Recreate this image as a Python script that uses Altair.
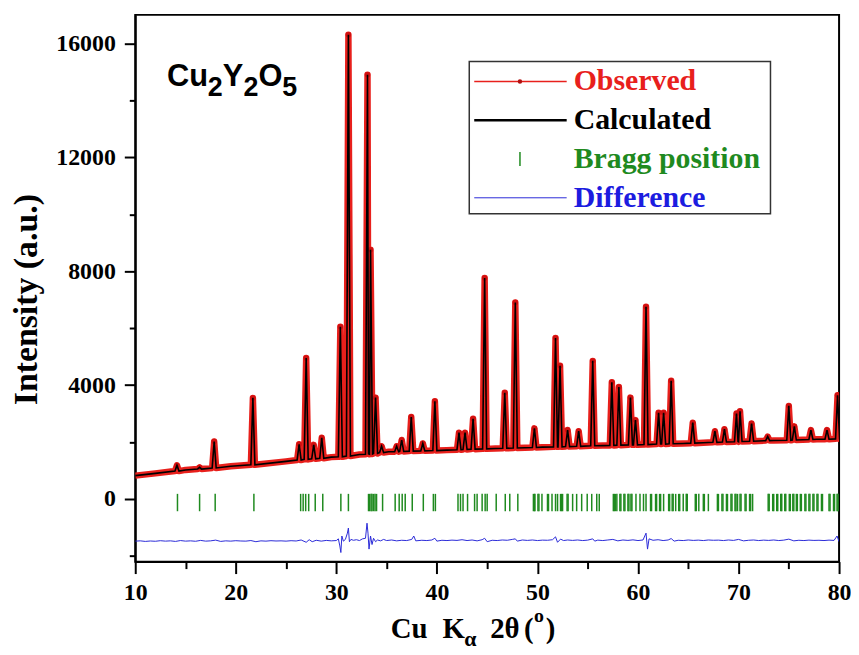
import altair as alt
import pandas as pd

# ---------------- data ----------------
# background anchor points of the pattern (2theta, intensity)
bg_x = [10, 12, 15, 19.5, 25, 29.5, 32.3, 35.2, 41, 45.8, 50.5, 56.5, 64.5, 66.5, 73.5, 77.8, 80.3]
bg_y = [820, 900, 1020, 1150, 1320, 1470, 1560, 1660, 1715, 1770, 1820, 1875, 1950, 1975, 2055, 2095, 2115]

# reflections: position, top intensity, local background under the peak
peak_pos = [14.15, 16.4, 17.85, 21.7, 26.3, 27.0, 27.75, 28.55, 30.4, 31.2, 33.1, 33.4, 33.9,
            34.5, 36.0, 36.5, 37.45, 38.6, 39.8, 42.2, 42.8, 43.6, 44.75, 46.75, 47.8, 49.7,
            51.8, 52.25, 53.0, 54.1, 55.5, 57.4, 58.1, 59.25, 59.75, 60.8, 62.05, 62.55, 63.3,
            65.45, 67.65, 68.6, 69.8, 70.15, 71.3, 72.9, 75.0, 75.55, 77.2, 78.8, 79.85]
peak_top = [1180, 1110, 2020, 3550, 1920, 4950, 1900, 2150, 6050, 16300, 14900, 8750, 3560,
            1850, 1850, 2070, 2880, 1950, 3430, 2330, 2330, 2820, 7760, 3730, 6900, 2480,
            5650, 4680, 2420, 2380, 4850, 4100, 3930, 3560, 2770, 6750, 3030, 3030, 4150,
            2680, 2380, 2450, 3000, 3080, 2650, 2190, 3270, 2550, 2420, 2420, 3640]
peak_base = [980, 1050, 1090, 1200, 1370, 1390, 1410, 1430, 1480, 1510, 1570, 1580, 1600,
             1630, 1660, 1670, 1680, 1690, 1700, 1730, 1740, 1750, 1760, 1780, 1790, 1810,
             1830, 1830, 1840, 1850, 1870, 1880, 1890, 1900, 1900, 1910, 1930, 1930, 1940,
             1960, 1990, 2000, 2010, 2020, 2030, 2050, 2060, 2070, 2090, 2100, 2110]

# Bragg reflection positions
bragg_pos = [14.2, 16.4, 17.95, 21.8, 26.45, 26.7, 26.95, 27.25, 27.9, 28.65, 30.45, 31.2, 33.2,
             33.3, 33.45, 33.55, 33.7, 33.85, 34.0, 34.6, 35.85, 36.25, 36.55, 36.85, 37.55,
             38.65, 39.65, 39.85, 42.1, 42.35, 42.6, 43.05, 43.75, 44.0, 44.5, 44.8, 45.0, 45.9,
             46.8, 47.25, 48.05, 49.6, 49.7, 49.75, 50.05, 50.15, 50.45, 51.0, 51.1, 51.45,
             51.8, 52.0, 52.3, 52.4, 52.5, 52.95, 53.05, 53.5, 53.9, 54.4, 54.95, 55.4, 55.9,
             56.15, 57.55, 57.65, 57.75, 57.9, 58.2, 58.3, 58.6, 58.7, 59.0, 59.1, 59.3, 59.4,
             59.8, 60.2, 60.55, 60.8, 61.25, 61.35, 61.75, 61.85, 62.15, 62.25, 62.55, 63.05,
             63.15, 63.4, 63.5, 63.75, 64.05, 64.15, 64.5, 64.8, 64.9, 65.7, 65.8, 66.05,
             66.5, 66.6, 67.0, 67.9, 68.0, 68.35, 68.45, 68.8, 68.9, 69.25, 69.35, 69.65, 69.75,
             69.9, 70.15, 70.25, 70.65, 70.75, 71.1, 71.2, 71.4, 72.95, 73.05, 73.4, 73.5, 73.8,
             73.9, 74.2, 74.3, 74.6, 74.7, 75.05, 75.15, 75.4, 75.5, 75.75, 75.85, 76.15, 76.25,
             76.6, 76.7, 77.0, 77.1, 77.4, 77.5, 77.8, 77.9, 78.25, 78.35, 79.0, 79.1, 79.45,
             79.55, 79.8, 79.9]

# difference curve (observed - calculated, offset)
diff_x = [10.0, 10.5, 11.0, 11.5, 12.0, 12.5, 13.0, 13.5, 14.0, 14.5, 15.0, 15.5, 16.0, 16.5,
          17.0, 17.5, 18.0, 18.5, 19.0, 19.5, 20.0, 20.5, 21.0, 21.5, 22.0, 22.5, 23.0, 23.5,
          24.0, 24.5, 25.0, 25.5, 26.0, 26.5, 27.0, 27.3, 27.6, 28.0, 28.5, 29.0, 29.5, 30.0,
          30.2, 30.35, 30.45, 30.55, 30.7, 30.9, 31.1, 31.2, 31.3, 31.45, 31.7, 32.0, 32.3,
          32.6, 32.9, 33.05, 33.15, 33.25, 33.4, 33.55, 33.7, 33.9, 34.1, 34.4, 34.7, 35.0,
          35.5, 36.0, 36.5, 37.0, 37.5, 37.7, 37.9, 38.5, 39.0, 39.5, 39.8, 40.0, 40.5, 41.0,
          41.5, 42.0, 42.5, 43.0, 43.5, 44.0, 44.5, 44.75, 45.0, 45.5, 46.0, 46.5, 47.0, 47.5,
          47.8, 48.0, 48.5, 49.0, 49.5, 50.0, 50.5, 51.0, 51.5, 51.8, 52.0, 52.3, 52.6, 53.0,
          53.5, 54.0, 54.5, 55.0, 55.5, 55.7, 56.0, 56.5, 57.0, 57.5, 58.0, 58.5, 59.0, 59.5,
          60.0, 60.5, 60.8, 60.95, 61.1, 61.5, 62.0, 62.5, 63.0, 63.3, 63.6, 64.0, 64.5, 65.0,
          65.5, 66.0, 66.5, 67.0, 67.5, 68.0, 68.5, 69.0, 69.5, 70.0, 70.5, 71.0, 71.5, 72.0,
          72.5, 73.0, 73.5, 74.0, 74.5, 75.0, 75.5, 76.0, 76.5, 77.0, 77.5, 78.0, 78.5, 79.0,
          79.5, 79.8, 80.0]
diff_y = [-1480, -1470, -1490, -1475, -1485, -1465, -1480, -1470, -1490, -1460, -1480, -1470,
          -1485, -1455, -1480, -1470, -1445, -1490, -1470, -1480, -1465, -1475, -1480, -1460,
          -1500, -1470, -1480, -1465, -1475, -1470, -1480, -1465, -1475, -1440, -1520, -1430,
          -1500, -1450, -1480, -1455, -1470, -1460, -1400, -1650, -1880, -1300, -1480, -1420,
          -1200, -1020, -1500, -1420, -1450, -1430, -1460, -1400, -1380, -850, -1200, -1760,
          -1300, -1600, -1380, -1500, -1440, -1470, -1420, -1460, -1440, -1470, -1450, -1460,
          -1420, -1300, -1470, -1450, -1460, -1440, -1380, -1480, -1450, -1460, -1445, -1455,
          -1430, -1460, -1440, -1470, -1430, -1380, -1500, -1450, -1460, -1440, -1450, -1420,
          -1400, -1480, -1440, -1455, -1440, -1460, -1445, -1450, -1430, -1330, -1520, -1410,
          -1460, -1440, -1455, -1440, -1460, -1445, -1400, -1480, -1445, -1460, -1440, -1420,
          -1470, -1440, -1455, -1435, -1460, -1440, -1200, -1760, -1400, -1450, -1430, -1460,
          -1440, -1390, -1480, -1450, -1460, -1440, -1455, -1445, -1460, -1440, -1450, -1445,
          -1460, -1440, -1455, -1420, -1470, -1450, -1440, -1460, -1445, -1455, -1440, -1460,
          -1445, -1410, -1470, -1450, -1460, -1445, -1455, -1450, -1460, -1445, -1455, -1300,
          -1500]

x_ticks = [10, 15, 20, 25, 30, 35, 40, 45, 50, 55, 60, 65, 70, 75, 80]
y_ticks = [-2000, 0, 2000, 4000, 6000, 8000, 10000, 12000, 14000, 16000]

legend_labels = ["Observed", "Calculated", "Bragg position", "Difference"]
legend_colors = ["#e8201c", "#000000", "#1f8a1f", "#1c1ce0"]

RED = "#e8201c"
GREEN = "#1f8a1f"
BLUE = "#2a2ad8"
SERIF = "Liberation Serif"
SANS = "Liberation Sans"

# ---------------- build profile polyline ----------------
HW = 0.2
verts = []
for p, t, b in zip(peak_pos, peak_top, peak_base):
    verts += [(p - HW, b), (p, t), (p + HW, b)]
for x, y in zip(bg_x, bg_y):
    if all(abs(x - p) > HW for p in peak_pos):
        verts.append((x, y))
verts.sort()
profile = pd.DataFrame(verts, columns=["x", "y"])
tops = pd.DataFrame({"x": peak_pos, "y": peak_top})
bragg = pd.DataFrame({"x": bragg_pos})
diff = pd.DataFrame({"x": diff_x, "y": diff_y})

xs = alt.Scale(domain=[10, 80], nice=False, zero=False)
ys = alt.Scale(domain=[-2200, 17000], nice=False, zero=False)

x_axis = alt.Axis(values=x_ticks, title=None, grid=False, format="d",
                  labelExpr="datum.value % 10 === 0 ? datum.label : ''",
                  tickSize={"condition": {"test": "datum.value % 10 === 0", "value": 12}, "value": 7},
                  labelPadding=7, labelFlush=False, labelOverlap=False)
y_axis = alt.Axis(values=y_ticks, grid=False, format="d",
                  labelExpr="datum.value % 4000 === 0 ? datum.label : ''",
                  tickSize={"condition": {"test": "datum.value % 4000 === 0", "value": 11}, "value": 6},
                  labelPadding=9, labelFlush=False, labelOverlap=False,
                  title="Intensity (a.u.)", titleX=-92, titleY=286)

X = alt.X("x:Q", scale=xs, axis=x_axis)
Y = alt.Y("y:Q", scale=ys, axis=y_axis)

diff_line = alt.Chart(diff).mark_line(color=BLUE, strokeWidth=1, clip=True).encode(x=X, y=Y)
bragg_rules = alt.Chart(bragg).mark_rule(color=GREEN, strokeWidth=1.5).encode(
    x=X, y=alt.datum(180), y2=alt.datum(-430))
obs_line = alt.Chart(profile).mark_line(color=RED, strokeWidth=6.5, clip=True,
                                        strokeJoin="round").encode(x=X, y=Y)
obs_pts = alt.Chart(tops).mark_point(filled=True, color="#d01010", size=30, opacity=1,
                                     clip=True).encode(x=X, y=Y)
calc_line = alt.Chart(profile).mark_line(color="black", strokeWidth=1.6, clip=True).encode(x=X, y=Y)

one = pd.DataFrame({"k": [0]})
base = alt.Chart(one)

# ---------------- legend (drawn by hand) ----------------
layers_leg = [base.mark_rect(fill="white", stroke="#333333", strokeWidth=1.5).encode(
    x=alt.value(336), x2=alt.value(639), y=alt.value(47), y2=alt.value(200))]
row0, step = 67, 39
for i, (lab, col) in enumerate(zip(legend_labels, legend_colors)):
    ry = row0 + step * i
    layers_leg.append(base.mark_text(text=lab, color=col, font=SERIF, fontWeight="bold",
                                     fontSize=30, align="left", baseline="middle").encode(
        x=alt.value(441), y=alt.value(ry)))
    if lab == "Observed":
        layers_leg.append(base.mark_rule(color=RED, strokeWidth=1.5).encode(
            x=alt.value(341), x2=alt.value(434), y=alt.value(ry)))
        layers_leg.append(base.mark_point(filled=True, color="#b01010", size=20, opacity=1).encode(
            x=alt.value(387), y=alt.value(ry)))
    elif lab == "Calculated":
        layers_leg.append(base.mark_rule(color="black", strokeWidth=2.5).encode(
            x=alt.value(341), x2=alt.value(434), y=alt.value(ry)))
    elif lab == "Bragg position":
        layers_leg.append(base.mark_rule(color=GREEN, strokeWidth=1.5).encode(
            x=alt.value(387), y=alt.value(ry - 7), y2=alt.value(ry + 7)))
    else:
        layers_leg.append(base.mark_rule(color=BLUE, strokeWidth=1).encode(
            x=alt.value(341), x2=alt.value(434), y=alt.value(ry)))

# ---------------- formula label Cu2Y2O5 ----------------
formula = [("Cu", 32, 72, 31), ("2", 73, 82, 27), ("Y", 88, 72, 31), ("2", 109, 82, 27),
           ("O", 124, 72, 31), ("5", 148, 82, 27)]
layers_txt = []
for t, px, py, fs in formula:
    layers_txt.append(base.mark_text(text=t, font=SANS, fontWeight="bold", fontSize=fs,
                                     align="left", baseline="alphabetic", color="black").encode(
        x=alt.value(px), y=alt.value(py)))

# ---------------- x-axis title with sub/superscript ----------------
xtitle = [("Cu", 257, 627, 29), ("K", 309, 627, 29), ("\u03b1", 331, 635, 22),
          ("2\u03b8", 357, 627, 29), ("(", 391, 627, 29), ("o", 401, 611, 20), (")", 413, 627, 29)]
for t, px, py, fs in xtitle:
    layers_txt.append(base.mark_text(text=t, font=SERIF, fontWeight="bold", fontSize=fs,
                                     align="left", baseline="alphabetic", color="black").encode(
        x=alt.value(px), y=alt.value(py)))

chart = alt.layer(diff_line, bragg_rules, obs_line, obs_pts, calc_line,
                  *layers_leg, *layers_txt).properties(
    width=708, height=550,
    padding={"left": 128, "top": 5, "right": 12, "bottom": 91},
    autosize=alt.AutoSizeParams(type="none"),
).configure_view(stroke="black", strokeWidth=2).configure_axis(
    domainColor="black", domainWidth=2, tickColor="black", tickWidth=2,
    labelFont=SERIF, labelFontWeight="bold", labelFontSize=24, labelColor="black",
    titleFont=SERIF, titleFontWeight="bold", titleFontSize=34, titleColor="black",
)

chart.save("out.html", embed_options={"renderer": "svg", "actions": False})
